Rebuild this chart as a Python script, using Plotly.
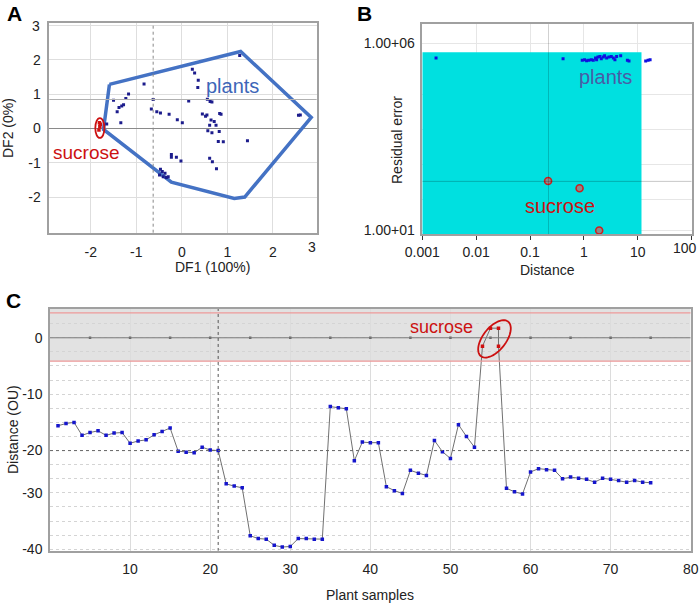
import numpy as np
import plotly.graph_objects as go

W, H = 699, 604
FONT = "Liberation Sans, Arial, sans-serif"

# ---------------- Panel A data (DF1 / DF2 scores) ----------------
a_plants_x = [-1.65, -1.50, -1.42, -1.38, -1.32, -1.28, -1.23, -1.17, -1.34, -0.83,
              -0.63, -0.67, -0.55, -0.47, -0.28, -0.10, 0.01, 0.15, 0.23, 0.28,
              0.36, 0.35, 0.56, 0.62, 0.66, 0.45, 0.52, 0.55, 0.83, 0.86,
              0.64, 0.71, 0.61, 0.75, 0.57, 0.66, 0.82, 0.80, 0.91, 1.44,
              1.27, 2.56, 2.60, -0.23, -0.23, -0.12, -0.02, 0.61, 0.67, 0.76,
              -0.47, -0.43, -0.49, -0.37, -0.34, -0.30, -0.41]
a_plants_y = [0.13, 0.82, 0.48, 0.61, 0.65, 0.69, 0.87, 1.00, 0.16, 1.29,
              0.84, 0.56, 0.48, 0.45, 0.41, 0.25, 0.16, 0.80, 1.72, 1.61,
              1.40, 1.19, 0.85, 0.78, 0.77, 0.42, 0.35, 0.39, 0.43, 0.41,
              0.24, 0.20, 0.09, 0.09, -0.07, -0.13, -0.09, -0.38, -0.39, -0.36,
              2.12, 0.38, 0.39, -0.76, -0.84, -0.84, -0.95, -0.87, -0.97, -1.18,
              -1.19, -1.26, -1.36, -1.31, -1.43, -1.41, -1.41]
a_sucrose_x = [-1.82, -1.80, -1.79, -1.81]
a_sucrose_y = [-0.05, 0.05, 0.12, 0.16]
a_hull_x = [-1.59, 1.29, 2.84, 1.38, 1.15, -0.23, -1.72, -1.59]
a_hull_y = [1.28, 2.24, 0.32, -2.00, -2.04, -1.57, -0.03, 1.28]
a_mean_x, a_mean_y = -0.63, 0.84
a_ticks = [-2, -1, 0, 1, 2, 3]
a_xticktext = ["-2", "-1", "0", "1", "2", ""]
a_yticktext = ["-2", "-1", "0", "1", "2", ""]

# ---------------- Panel B data (distance vs residual error) ----------------
b_plants_dist = [0.0018, 0.41, 0.93, 1.03, 1.12, 1.23, 1.37, 1.49, 1.64, 1.72,
                 1.82, 1.98, 2.10, 2.29, 2.42, 2.64, 2.91, 3.22, 3.51, 3.76,
                 4.04, 4.81, 6.4, 6.86, 14.0, 15.5, 16.9]
b_plants_res = [3.98e5, 3.8e5, 3.47e5, 3.59e5, 3.39e5, 3.47e5, 3.59e5, 3.47e5, 3.98e5, 3.59e5,
                4.24e5, 4.40e5, 3.80e5, 4.24e5, 4.57e5, 3.98e5, 4.24e5, 4.40e5, 3.98e5, 3.59e5,
                4.40e5, 4.57e5, 3.47e5, 3.31e5, 3.31e5, 3.47e5, 3.59e5]
b_sucrose_dist = [0.216, 0.83, 1.92]
b_sucrose_res = [209, 135, 10]
b_region_dist = 11.7      # acceptance region limits
b_region_res = 5.75e5
b_crit_dist = 0.22
b_crit_res = 205
b_xticks = [0.001, 0.01, 0.1, 1, 10, 100]
b_xtext = ["0.001", "0.01", "0.1", "1", "10", ""]
b_ygrid = [10, 66, 589, 4900, 41700, 1e6]
b_ytext = ["1.00+01", "", "", "", "", "1.00+06"]

# ---------------- Panel C data (distance per plant sample) ----------------
c_samples = list(range(1, 54))
c_dist = [-15.6, -15.2, -15.0, -17.3, -16.8, -16.5, -17.3, -16.9, -16.8, -18.7,
          -18.3, -18.1, -17.2, -16.6, -16.0, -20.1, -20.3, -20.4, -19.4, -19.9,
          -20.0, -25.9, -26.3, -26.6, -35.1, -35.6, -35.7, -36.8, -37.1, -37.0,
          -35.6, -35.6, -35.7, -35.7, -12.2, -12.4, -12.6, -21.8, -18.5, -18.6,
          -18.6, -26.4, -27.1, -27.6, -23.5, -24.0, -24.4, -18.2, -20.2, -21.4,
          -15.4, -17.5, -19.4]
c_sucrose_samples = [54, 55, 56, 56]
c_sucrose_dist = [-1.5, 1.7, 1.7, -1.5]
c_samples2 = list(range(57, 76))
c_dist2 = [-26.7, -27.3, -27.7, -23.8, -23.2, -23.4, -23.5, -25.0, -24.7, -24.9,
           -25.1, -25.6, -24.9, -25.1, -25.3, -25.6, -25.3, -25.6, -25.7]
c_limit_hi, c_limit_lo = 4.4, -4.15
c_threshold = -20.0
c_split_sample = 21
c_xticks = [10, 20, 30, 40, 50, 60, 70, 80]
c_zero_marks = [5, 10, 15, 20, 25, 30, 35, 40, 45, 50, 55, 60, 65, 70, 75]
c_yticks = [0, -10, -20, -27.5, -37.5]
c_ytext = ["0", "-10", "-20", "-30", "-40"]


def px(x):
    return x / W


def py(y):
    return 1 - y / H


fig = go.Figure()

# Panel A traces
fig.add_trace(go.Scatter(x=a_hull_x, y=a_hull_y, mode="lines",
                         line=dict(color="#4472c4", width=3.5),
                         xaxis="x", yaxis="y", hoverinfo="skip"))
fig.add_trace(go.Scatter(x=a_plants_x, y=a_plants_y, mode="markers",
                         marker=dict(symbol="square", size=3, color="#1c1c8c"),
                         xaxis="x", yaxis="y"))
fig.add_trace(go.Scatter(x=a_sucrose_x, y=a_sucrose_y, mode="markers",
                         marker=dict(symbol="square", size=3.5, color="#d01010"),
                         xaxis="x", yaxis="y"))

# Panel B traces
fig.add_trace(go.Scatter(x=b_plants_dist, y=b_plants_res, mode="markers",
                         marker=dict(symbol="square", size=3, color="#1010e0"),
                         xaxis="x2", yaxis="y2"))
fig.add_trace(go.Scatter(x=b_sucrose_dist, y=b_sucrose_res, mode="markers",
                         marker=dict(symbol="circle", size=7, color="#8a8a8a",
                                     line=dict(color="#cc2020", width=1.6)),
                         xaxis="x2", yaxis="y2"))

# Panel C traces
all_x = c_samples + c_sucrose_samples + c_samples2
all_y = c_dist + c_sucrose_dist + c_dist2
fig.add_trace(go.Scatter(x=c_zero_marks, y=[0] * len(c_zero_marks), mode="markers",
                         marker=dict(symbol="square", size=2.5, color="#666"),
                         xaxis="x3", yaxis="y3", hoverinfo="skip"))
fig.add_trace(go.Scatter(x=all_x, y=all_y, mode="lines",
                         line=dict(color="#707070", width=1),
                         xaxis="x3", yaxis="y3", hoverinfo="skip"))
fig.add_trace(go.Scatter(x=c_samples + c_samples2, y=c_dist + c_dist2, mode="markers",
                         marker=dict(symbol="square", size=3.5, color="#1515cc"),
                         xaxis="x3", yaxis="y3"))
fig.add_trace(go.Scatter(x=c_sucrose_samples, y=c_sucrose_dist, mode="markers",
                         marker=dict(symbol="square", size=3.5, color="#d01010"),
                         xaxis="x3", yaxis="y3"))

tickfont = dict(family=FONT, size=14, color="#222")

common_box = dict(showline=True, linecolor="#a0a0a0", linewidth=1.5, mirror=True,
                  ticks="", tickfont=tickfont, automargin=False)

shapes = []
# Panel A extras
shapes.append(dict(type="line", xref="x", yref="paper", x0=a_mean_x, x1=a_mean_x,
                   y0=py(232.7), y1=py(23.3), line=dict(color="#888", width=1, dash="dot")))
shapes.append(dict(type="line", xref="paper", yref="y", x0=px(49.3), x1=px(316.7),
                   y0=a_mean_y, y1=a_mean_y, line=dict(color="#b0b0b0", width=1)))
shapes.append(dict(type="circle", xref="x", yref="y", x0=-1.9, x1=-1.7, y0=-0.28, y1=0.3,
                   line=dict(color="#cc1010", width=1.8)))

# Panel B extras
shapes.append(dict(type="rect", xref="x2", yref="y2", x0=0.001, x1=b_region_dist,
                   y0=7.95, y1=b_region_res, fillcolor="#00e0e0", line=dict(width=0),
                   layer="between"))
shapes.append(dict(type="line", xref="x2", yref="y2", x0=b_crit_dist, x1=b_crit_dist,
                   y0=7.95, y1=3.2e6, line=dict(color="rgba(0,0,0,0.18)", width=1)))
shapes.append(dict(type="line", xref="x2", yref="y2", x0=0.001, x1=100,
                   y0=b_crit_res, y1=b_crit_res, line=dict(color="rgba(0,0,0,0.22)", width=1)))

# Panel C extras
shapes.append(dict(type="rect", xref="x3", yref="y3", x0=0, x1=80, y0=c_limit_lo, y1=5.1,
                   fillcolor="#e2e2e2", line=dict(width=0), layer="below"))
for lim in (c_limit_hi, c_limit_lo):
    shapes.append(dict(type="line", xref="x3", yref="y3", x0=0, x1=80, y0=lim, y1=lim,
                       line=dict(color="#ee9a9a", width=1.2)))
shapes.append(dict(type="line", xref="x3", yref="y3", x0=0, x1=80, y0=0, y1=0,
                   line=dict(color="#7a7a7a", width=1)))
shapes.append(dict(type="line", xref="x3", yref="y3", x0=0, x1=80, y0=c_threshold,
                   y1=c_threshold, line=dict(color="#666", width=1, dash="dot")))
shapes.append(dict(type="line", xref="x3", yref="y3", x0=c_split_sample, x1=c_split_sample,
                   y0=-37.8, y1=5.1, line=dict(color="#555", width=1, dash="dot")))
# tilted ellipse round the sucrose samples (pixel geometry -> data units)
t = np.linspace(0, 2 * np.pi, 60)
ang = np.deg2rad(52)
a_px, b_px = 22.0, 11.5
dxp = a_px * np.cos(t) * np.cos(ang) - b_px * np.sin(t) * np.sin(ang)
dyp = a_px * np.cos(t) * np.sin(ang) + b_px * np.sin(t) * np.cos(ang)
ex = 55.5 + dxp / 8.0
ey = -0.2 + dyp / 5.65
path = "M " + " L ".join(f"{xx:.3f},{yy:.3f}" for xx, yy in zip(ex, ey)) + " Z"
shapes.append(dict(type="path", xref="x3", yref="y3", path=path,
                   line=dict(color="#cc1010", width=1.8)))


def ann(text, x, y, xref="paper", yref="paper", size=14, color="#222", **kw):
    return dict(text=text, x=x, y=y, xref=xref, yref=yref, showarrow=False,
                xanchor="center", yanchor="middle",
                font=dict(family=FONT, size=size, color=color), **kw)


annotations = [
    ann("<b>A</b>", px(14), py(13), size=21, color="#000"),
    ann("<b>B</b>", px(364), py(13), size=21, color="#000"),
    ann("<b>C</b>", px(13), py(300), size=21, color="#000"),
    ann("plants", 1.12, 1.22, "x", "y", size=20, color="#3d66b8"),
    ann("sucrose", -2.1, -0.69, "x", "y", size=19, color="#cc1111"),
    # log axes: annotation positions are given in log10 units
    ann("plants", 0.40, 5.1, "x2", "y2", size=20, color="#4a5ca6"),
    ann("sucrose", -0.44, 1.66, "x2", "y2", size=20, color="#cc1111"),
    ann("sucrose", 48.9, 1.95, "x3", "y3", size=18, color="#cc1111"),
    # edge tick labels that the original software pulls inside the frame
    ann("3", px(312), py(247), size=14),
    ann("3", px(36), py(26), size=14),
    ann("100", px(685), py(248), size=14),
    # axis titles
    ann("DF1 (100%)", px(212), py(267), size=14),
    ann("DF2 (0%)", px(8), py(128), size=14, textangle=-90),
    ann("Distance", px(547), py(270), size=14),
    ann("Residual error", px(397), py(140), size=14, textangle=-90),
    ann("Plant samples", px(370), py(595), size=14),
    ann("Distance (OU)", px(13), py(430), size=14, textangle=-90),
]

fig.update_layout(
    width=W, height=H, margin=dict(l=0, r=0, t=0, b=0, autoexpand=False),
    paper_bgcolor="white", plot_bgcolor="white", showlegend=False,
    font=dict(family=FONT),
    xaxis=dict(domain=[px(49.3), px(316.7)], range=[-2.91, 2.96], anchor="y",
               tickvals=a_ticks, ticktext=a_xticktext, gridcolor="#dedede", zeroline=False,
               ticklabelstandoff=6, **common_box),
    yaxis=dict(domain=[py(232.7), py(23.3)], range=[-3.04, 3.06], anchor="x",
               tickvals=a_ticks, ticktext=a_yticktext, gridcolor="#dedede", zeroline=True,
               zerolinecolor="#8a8a8a", zerolinewidth=1, ticklabelstandoff=4, **common_box),
    xaxis2=dict(domain=[px(422.3), px(691.7)], type="log", range=[-3, 2], anchor="y2",
                tickvals=b_xticks, ticktext=b_xtext, gridcolor="#e6e6e6", zeroline=False,
                showline=True, linecolor="#a0a0a0", linewidth=1.5, mirror=True,
                ticks="outside", ticklen=4, tickcolor="#333", tickfont=tickfont,
                automargin=False),
    yaxis2=dict(domain=[py(234.3), py(24)], type="log", range=[0.9, 6.51], anchor="x2",
                tickvals=b_ygrid, ticktext=b_ytext, gridcolor="#e6e6e6", zeroline=False,
                ticklabelstandoff=3, **common_box),
    xaxis3=dict(domain=[px(50), px(690.7)], range=[0, 80], anchor="y3",
                tickvals=c_xticks, gridcolor="#dcdcdc", zeroline=False,
                ticklabelstandoff=5, **common_box),
    yaxis3=dict(domain=[py(550.7), py(309)], range=[-37.75, 5.1], anchor="x3",
                tickvals=c_yticks, ticktext=c_ytext, gridcolor="#d4d4d4", griddash="dot",
                minor=dict(dtick=2.5, tick0=0, showgrid=True, gridcolor="#d4d4d4",
                           griddash="dot"),
                zeroline=False, ticklabelstandoff=3, **common_box),
    shapes=shapes, annotations=annotations,
)

fig.write_html("out.html", config={"displayModeBar": False},
               post_script="document.body.style.margin='0';document.body.style.overflow='hidden';")
